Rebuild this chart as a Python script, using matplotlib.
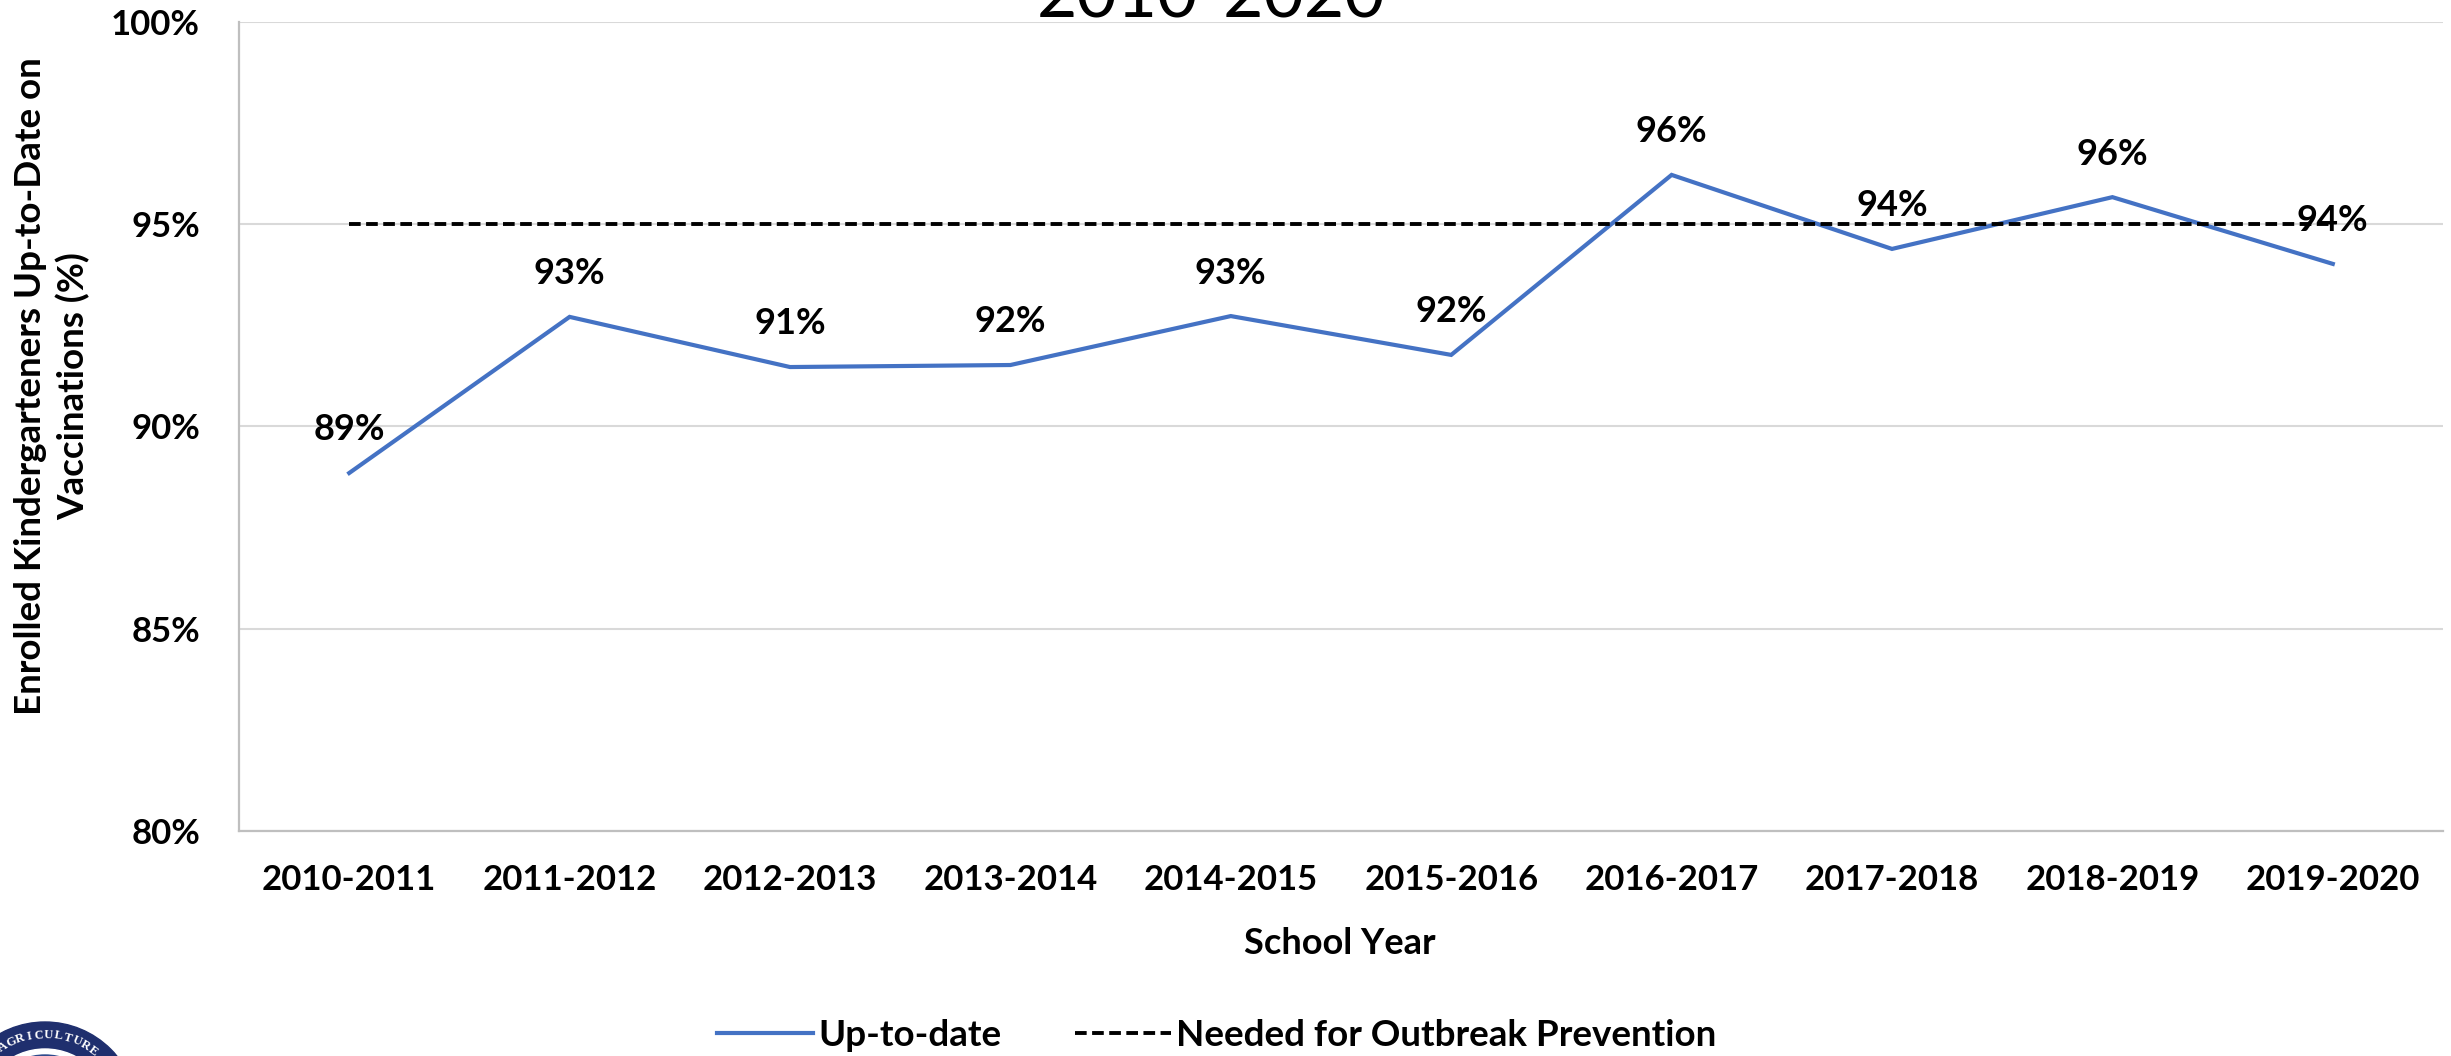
import numpy as np
import matplotlib
matplotlib.use("Agg")
import matplotlib.pyplot as plt
from matplotlib.patches import Circle

# school years and share of enrolled kindergarteners up to date (%)
YEARS = ["2010-2011", "2011-2012", "2012-2013", "2013-2014", "2014-2015",
         "2015-2016", "2016-2017", "2017-2018", "2018-2019", "2019-2020"]
UP_TO_DATE = [88.85, 92.71, 91.47, 91.52, 92.73, 91.77, 96.22, 94.39, 95.67, 94.02]
THRESHOLD = [95.0] * len(YEARS)
Y_TICKS = [80, 85, 90, 95, 100]

BLUE = "#4472C4"
FONT = ["Lato", "DejaVu Sans"]
W, H = 2451, 1056

plt.rcParams["font.family"] = FONT

fig = plt.figure(figsize=(W / 100, H / 100), dpi=100)
ax = fig.add_axes([239 / W, 1 - 831 / H, (2443 - 239) / W, (831 - 22) / H])

x = np.arange(len(YEARS))
ax.plot(x, UP_TO_DATE, color=BLUE, lw=3.0, solid_joinstyle="miter",
        label="Up-to-date", zorder=3)
ax.plot(x, THRESHOLD, color="black", lw=2.8, dashes=(3.0, 1.4),
        label="Needed for Outbreak Prevention", zorder=4)

for xi, v in zip(x, UP_TO_DATE):
    ax.annotate(f"{v:.0f}%", (xi, v), xytext=(0, 31), textcoords="offset points",
                ha="center", va="center", fontsize=26, fontweight="bold", zorder=5)

ax.set_xlim(-0.5, len(YEARS) - 0.5)
ax.set_ylim(80, 100)
ax.set_yticks(Y_TICKS)
ax.set_yticklabels([f"{t}%" for t in Y_TICKS])
ax.set_xticks(x)
ax.set_xticklabels(YEARS)
ax.tick_params(axis="both", length=0, labelsize=25)
ax.tick_params(axis="y", pad=28)
ax.tick_params(axis="x", pad=24)
for lbl in ax.get_xticklabels() + ax.get_yticklabels():
    lbl.set_fontweight("bold")
ax.grid(axis="y", color="#D9D9D9", lw=1.5)
ax.set_axisbelow(True)
for s in ["top", "right"]:
    ax.spines[s].set_visible(False)
for s in ["left", "bottom"]:
    ax.spines[s].set_color("#BFBFBF")
    ax.spines[s].set_linewidth(1.6)

fig.text(52 / W, 1 - 386 / H, "Enrolled Kindergarteners Up-to-Date on\nVaccinations (%)",
         rotation=90, ha="center", va="center", multialignment="center",
         fontsize=26.5, fontweight="bold", linespacing=1.3)
fig.text(1340 / W, 1 - 944 / H, "School Year", ha="center", va="center",
         fontsize=26, fontweight="bold")

# title, cut off by the top edge in the original
fig.text(1211 / W, 1 - 18 / H, "2010-2020", ha="center", va="baseline",
         fontsize=50)

leg = fig.legend(loc="center", bbox_to_anchor=(1217 / W, 1 - 1035 / H), ncol=2,
                 frameon=False, handlelength=2.6, handletextpad=0.15,
                 columnspacing=2.0, prop={"weight": "bold", "size": 26.5})

# partial seal in the lower-left corner
ov = fig.add_axes([0, 0, 1, 1], zorder=-1)
ov.set_xlim(0, W)
ov.set_ylim(H, 0)
ov.axis("off")
ov.add_patch(Circle((45, 1115), 93, color="#1F2F6E"))
ov.add_patch(Circle((45, 1115), 66, color="white"))
ov.add_patch(Circle((45, 1115), 60, color="#2E4A8C"))
for i, ch in enumerate("AGRICULTURE"):
    ang = np.deg2rad(-32 + i * 6.9)
    ov.text(45 + 80 * np.sin(ang), 1115 - 80 * np.cos(ang), ch,
            rotation=-np.rad2deg(ang), ha="center", va="center",
            fontsize=9, color="white", family="Liberation Serif", fontweight="bold")

fig.savefig("out.png", dpi=100)
